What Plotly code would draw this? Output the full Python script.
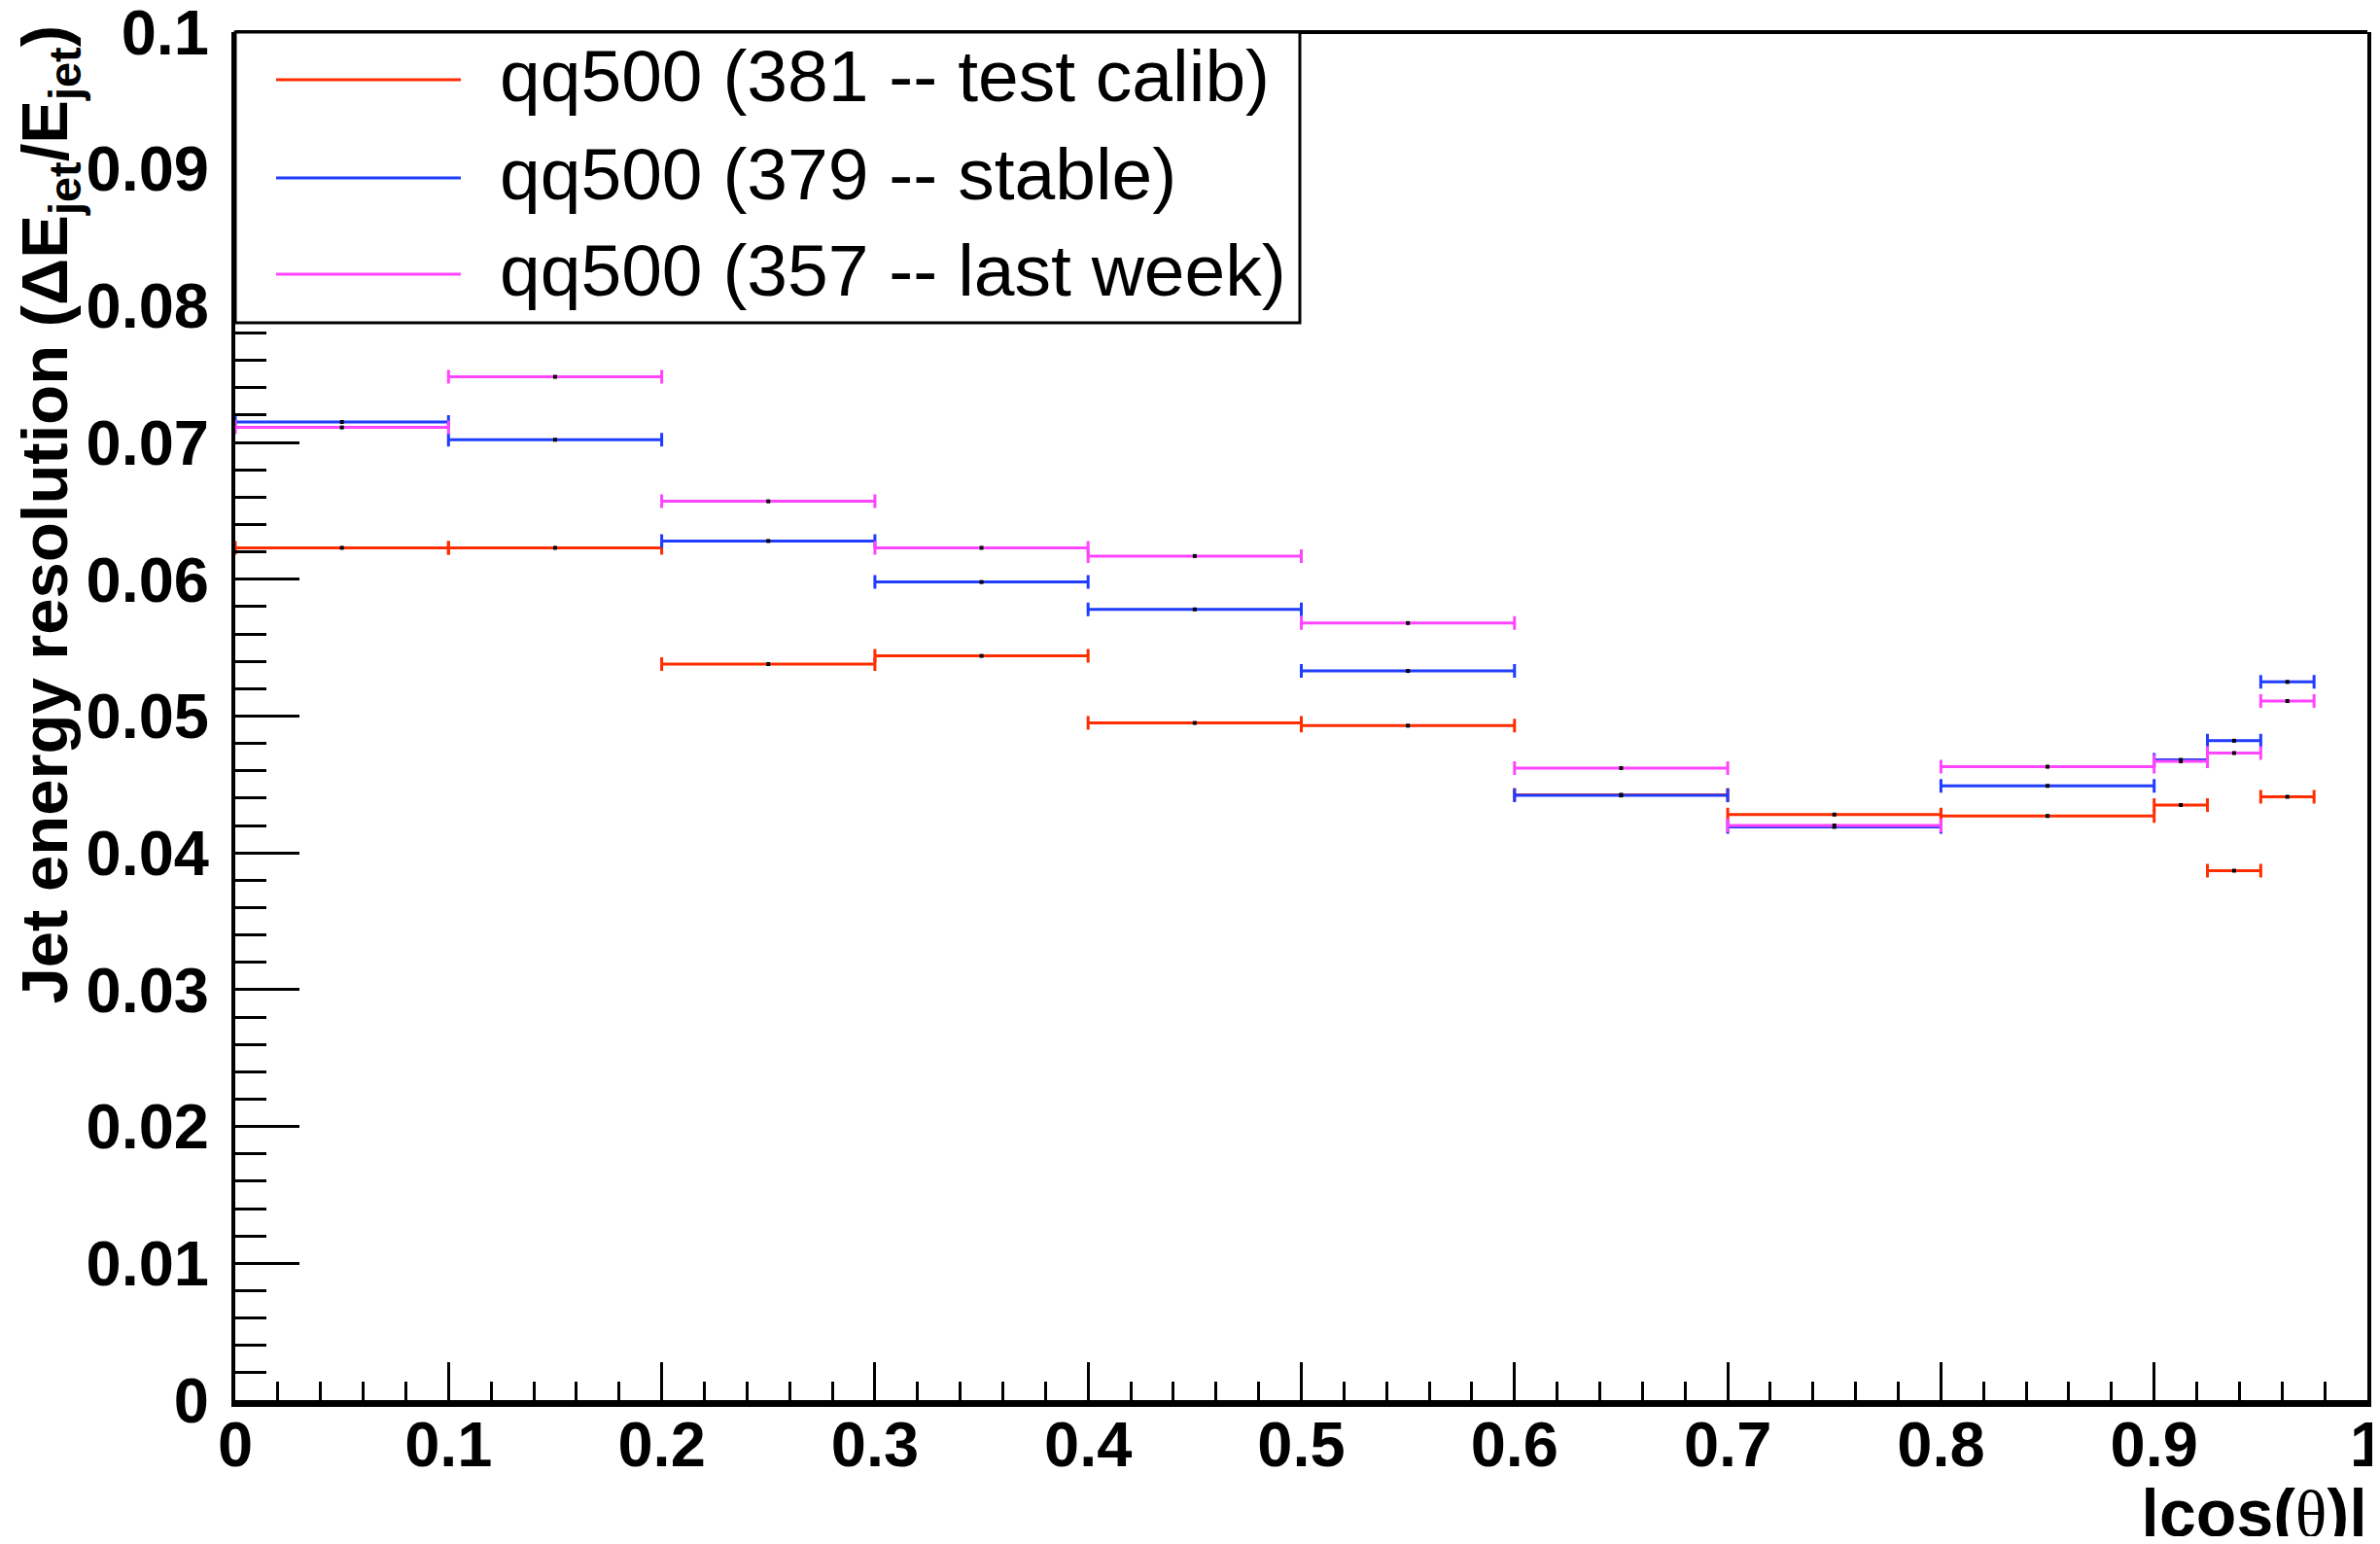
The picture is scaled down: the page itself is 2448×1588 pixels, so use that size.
import plotly.graph_objects as go

# ---- data ----
bin_edges = [0.0, 0.1, 0.2, 0.3, 0.4, 0.5, 0.6, 0.7, 0.8, 0.9, 0.925, 0.95, 0.975]
res_381 = [0.0623, 0.0623, 0.0538, 0.0544, 0.0495, 0.0493, 0.04425, 0.0428, 0.0427, 0.0435, 0.0387, 0.0441]
res_379 = [0.0715, 0.0702, 0.0628, 0.0598, 0.0578, 0.0533, 0.0442, 0.0419, 0.0449, 0.0468, 0.0482, 0.0525]
res_357 = [0.0711, 0.0748, 0.0657, 0.0623, 0.0617, 0.0568, 0.0462, 0.0420, 0.0463, 0.0467, 0.0473, 0.0511]
series_names = ["qq500 (381 -- test calib)", "qq500 (379 -- stable)", "qq500 (357 -- last week)"]
series_colors = ["#ff2d00", "#1f3cff", "#ff45ff"]
x_tick_vals = [0, 0.1, 0.2, 0.3, 0.4, 0.5, 0.6, 0.7, 0.8, 0.9, 1.0]
x_tick_text = ["0", "0.1", "0.2", "0.3", "0.4", "0.5", "0.6", "0.7", "0.8", "0.9", "1"]
y_tick_vals = [0, 0.01, 0.02, 0.03, 0.04, 0.05, 0.06, 0.07, 0.08, 0.09, 0.1]
y_tick_text = ["0", "0.01", "0.02", "0.03", "0.04", "0.05", "0.06", "0.07", "0.08", "0.09", "0.1"]

centers = [(a + b) / 2 for a, b in zip(bin_edges[:-1], bin_edges[1:])]
halfw = [(b - a) / 2 for a, b in zip(bin_edges[:-1], bin_edges[1:])]

FONT = "Liberation Sans"
fig = go.Figure()
for vals, name, col in zip([res_381, res_379, res_357], series_names, series_colors):
    fig.add_trace(go.Scatter(
        x=centers, y=vals, mode="markers", name=name,
        marker=dict(symbol="square", size=4, color="black", line=dict(width=0)),
        error_x=dict(type="data", array=halfw, color=col, thickness=3, width=7),
        showlegend=False,
    ))

# page has an 8px body margin; figure sized to fit inside the window
OFF = 8
W, H = 2432, 1572
PL, PR, PT, PB = 242, 2435, 33, 1440   # plot area in page pixels
ml, mt = PL - OFF, PT - OFF
mr = W - (PR - OFF)
mb = H - (PB - OFF)
pw, ph = PR - PL, PB - PT

def px_x(p):
    return (p - PL) / pw

def px_y(p):
    return (PB - p) / ph

fig.update_layout(
    width=W, height=H,
    margin=dict(l=ml, r=mr, t=mt, b=mb, autoexpand=False),
    paper_bgcolor="white", plot_bgcolor="white",
    font=dict(family=FONT, color="black"),
    xaxis=dict(
        range=[0, 1], showgrid=False, zeroline=False, automargin=False,
        showline=True, linewidth=7, linecolor="black", mirror=False,
        tickmode="array", tickvals=x_tick_vals, ticktext=x_tick_text,
        ticks="inside", ticklen=39, tickwidth=3, tickcolor="black",
        minor=dict(dtick=0.02, ticks="inside", ticklen=19, tickwidth=3, tickcolor="black", showgrid=False),
        tickfont=dict(family=FONT, size=65, color="black", weight="bold"),
        ticklabelstandoff=-17, ticklabeloverflow="allow",
    ),
    yaxis=dict(
        range=[0, 0.1], showgrid=False, zeroline=False, automargin=False,
        showline=True, linewidth=4, linecolor="black", mirror=True,
        tickmode="array", tickvals=y_tick_vals, ticktext=y_tick_text,
        ticks="inside", ticklen=66, tickwidth=3, tickcolor="black",
        minor=dict(dtick=0.002, ticks="inside", ticklen=32, tickwidth=3, tickcolor="black", showgrid=False),
        tickfont=dict(family=FONT, size=65, color="black", weight="bold"),
        ticklabelstandoff=10, ticklabeloverflow="allow",
    ),
)

shapes = []
# top frame line
shapes.append(dict(type="line", xref="paper", yref="paper", x0=0, x1=1, y0=1, y1=1,
                   line=dict(color="black", width=4), layer="above"))
# legend box
shapes.append(dict(type="rect", xref="paper", yref="paper", x0=0, x1=px_x(1337), y0=px_y(332), y1=1,
                   fillcolor="white", line=dict(color="black", width=3), layer="above"))
annotations = []
leg_y = [82, 183, 282]
for name, col, yy in zip(series_names, series_colors, leg_y):
    shapes.append(dict(type="line", xref="paper", yref="paper", x0=px_x(284), x1=px_x(474),
                       y0=px_y(yy), y1=px_y(yy), line=dict(color=col, width=3), layer="above"))
    annotations.append(dict(xref="paper", yref="paper", x=px_x(512), y=px_y(yy - 4), xanchor="left",
                            yanchor="middle", text=name, showarrow=False,
                            font=dict(family=FONT, size=75, color="black")))

annotations.append(dict(
    xref="paper", yref="paper", x=px_x(50), y=px_y(24), xanchor="center", yanchor="top",
    textangle=-90, showarrow=False,
    text="<b>Jet energy resolution (ΔE<sub>jet</sub>/E<sub>jet</sub>)</b>",
    font=dict(family=FONT, size=67, color="black")))
annotations.append(dict(
    xref="paper", yref="paper", x=px_x(2437), y=px_y(1557), xanchor="right", yanchor="middle",
    showarrow=False,
    text="<b>|cos(</b><span style='font-family:Liberation Serif'>θ</span><b>)|</b>",
    font=dict(family=FONT, size=68, color="black")))

fig.update_layout(shapes=shapes, annotations=annotations)
fig.write_html("out.html")
